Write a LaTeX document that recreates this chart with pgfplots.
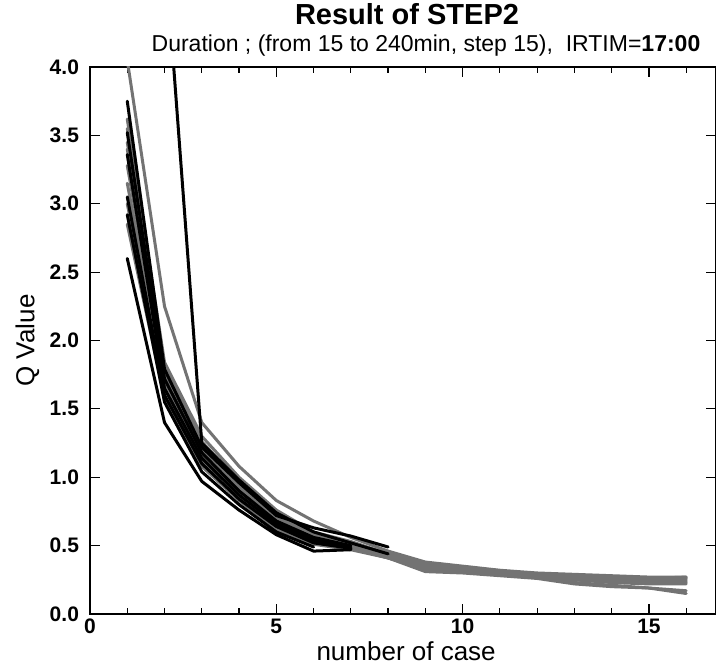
\documentclass[border=0pt]{standalone}
\usepackage{fontspec}
\setmainfont{Liberation Sans}
\usepackage{pgfplots}
\pgfplotsset{compat=1.18}
\usetikzlibrary{calc}
\tikzset{
  blk/.style={black, line width=1.5pt, line join=round, line cap=round},
  gry/.style={black!55, line width=1.5pt, line join=round, line cap=round},
}
\begin{document}
\begin{tikzpicture}
\begin{axis}[name=ax, scale only axis, width=313pt, height=273.5pt,
  xmin=0, xmax=16.8, ymin=0, ymax=4,
  xtick={0,5,10,15}, minor xtick={1,2,3,4,6,7,8,9,11,12,13,14,16},
  ytick={0,0.5,1,1.5,2,2.5,3,3.5,4},
  yticklabel style={xshift=-2pt, /pgf/number format/.cd, fixed, fixed zerofill, precision=1},
  /pgf/number format/assume math mode=true,
  tick label style={font=\fontsize{10.5}{10.5}\selectfont\bfseries},
  xticklabel style={yshift=1pt},
  tick align=inside, major tick length=5pt, minor tick length=3pt,
  tick style={black, line width=0.6pt},
  axis line style={line width=0.8pt},
  xlabel={number of case}, ylabel={Q Value},
  label style={font=\fontsize{13}{13}\selectfont},
  xlabel style={at={(axis description cs:0.505,0)}, anchor=base, yshift=-23pt},
  ylabel style={at={(axis description cs:-0.1,0.5)}, anchor=center},
]
% gray curves
\addplot[gry] coordinates {(1,4.05)(2,2.25)(3,1.40)(4,1.08)(5,0.83)(6,0.68)(7,0.56)(8,0.46)(9,0.38)(10,0.35)(11,0.32)(12,0.30)(13,0.29)(14,0.28)(15,0.27)(16,0.27)};
\addplot[gry] coordinates {(1,3.62)(2,1.84)(3,1.30)(4,1.00)(5,0.76)(6,0.60)(7,0.53)(8,0.44)(9,0.37)(10,0.34)(11,0.31)(12,0.29)(13,0.28)(14,0.27)(15,0.26)(16,0.26)};
\addplot[gry] coordinates {(1,3.45)(2,1.78)(3,1.24)(4,0.95)(5,0.72)(6,0.58)(7,0.51)(8,0.43)(9,0.36)(10,0.33)(11,0.30)(12,0.28)(13,0.27)(14,0.26)(15,0.25)(16,0.25)};
\addplot[gry] coordinates {(1,3.28)(2,1.74)(3,1.20)(4,0.92)(5,0.70)(6,0.56)(7,0.50)(8,0.42)(9,0.35)(10,0.32)(11,0.30)(12,0.28)(13,0.26)(14,0.25)(15,0.24)(16,0.24)};
\addplot[gry] coordinates {(1,3.15)(2,1.70)(3,1.16)(4,0.89)(5,0.67)(6,0.55)(7,0.49)(8,0.41)(9,0.34)(10,0.32)(11,0.29)(12,0.27)(13,0.25)(14,0.24)(15,0.23)(16,0.23)};
\addplot[gry] coordinates {(1,3.00)(2,1.65)(3,1.12)(4,0.86)(5,0.65)(6,0.53)(7,0.48)(8,0.41)(9,0.33)(10,0.31)(11,0.29)(12,0.27)(13,0.25)(14,0.23)(15,0.22)(16,0.22)};
\addplot[gry] coordinates {(1,2.85)(2,1.58)(3,1.08)(4,0.83)(5,0.62)(6,0.51)(7,0.47)(8,0.41)(9,0.31)(10,0.30)(11,0.28)(12,0.26)(13,0.22)(14,0.20)(15,0.19)(16,0.17)};
\addplot[gry] coordinates {(1,3.40)(2,1.76)(3,1.22)(4,0.93)(5,0.70)(6,0.57)(7,0.51)(8,0.43)(9,0.32)(10,0.31)(11,0.29)(12,0.27)(13,0.23)(14,0.21)(15,0.19)(16,0.15)};
\addplot[gry] coordinates {(1,3.55)(2,1.80)(3,1.26)(4,0.97)(5,0.74)(6,0.59)(7,0.52)(8,0.44)(9,0.36)(10,0.33)(11,0.31)(12,0.29)(13,0.28)(14,0.27)(15,0.26)(16,0.27)};
% black curves
\addplot[blk] coordinates {(1,3.75)(2,1.79)(3,1.22)(4,0.96)(5,0.72)(6,0.63)(7,0.57)(8,0.49)};
\addplot[blk] coordinates {(1,3.52)(2,1.72)(3,1.18)(4,0.90)(5,0.68)(6,0.56)(7,0.50)};
\addplot[blk] coordinates {(1,3.05)(2,1.60)(3,1.10)(4,0.84)(5,0.64)(6,0.52)(7,0.48)};
\addplot[blk] coordinates {(1,2.92)(2,1.55)(3,1.04)(4,0.80)(5,0.60)(6,0.49)};
\addplot[blk] coordinates {(1,2.60)(2,1.40)(3,0.97)(4,0.76)(5,0.58)(6,0.46)(7,0.47)};
\addplot[blk] coordinates {(2,4.90)(3,1.25)(4,0.98)(5,0.74)(6,0.60)(7,0.52)(8,0.44)};
\addplot[blk] coordinates {(1,3.36)(2,1.65)(3,1.14)(4,0.87)(5,0.66)(6,0.54)(7,0.49)};
\end{axis}
\node[anchor=base, font=\bfseries\fontsize{14.5}{14.5}\selectfont] at ($(ax.north)+(2pt,21pt)$) {Result of STEP2};
\node[anchor=base, font=\fontsize{11.5}{11.5}\selectfont] at ($(ax.north west)+(168pt,7.5pt)$) {Duration ; (from 15 to 240min, step 15),\ \ IRTIM=\textbf{17:00}};
\pgfresetboundingbox
\path[use as bounding box] ($(ax.south west)+(-45pt,-24.5pt)$) rectangle ($(ax.north east)+(0pt,33.5pt)$);
\end{tikzpicture}
\end{document}
